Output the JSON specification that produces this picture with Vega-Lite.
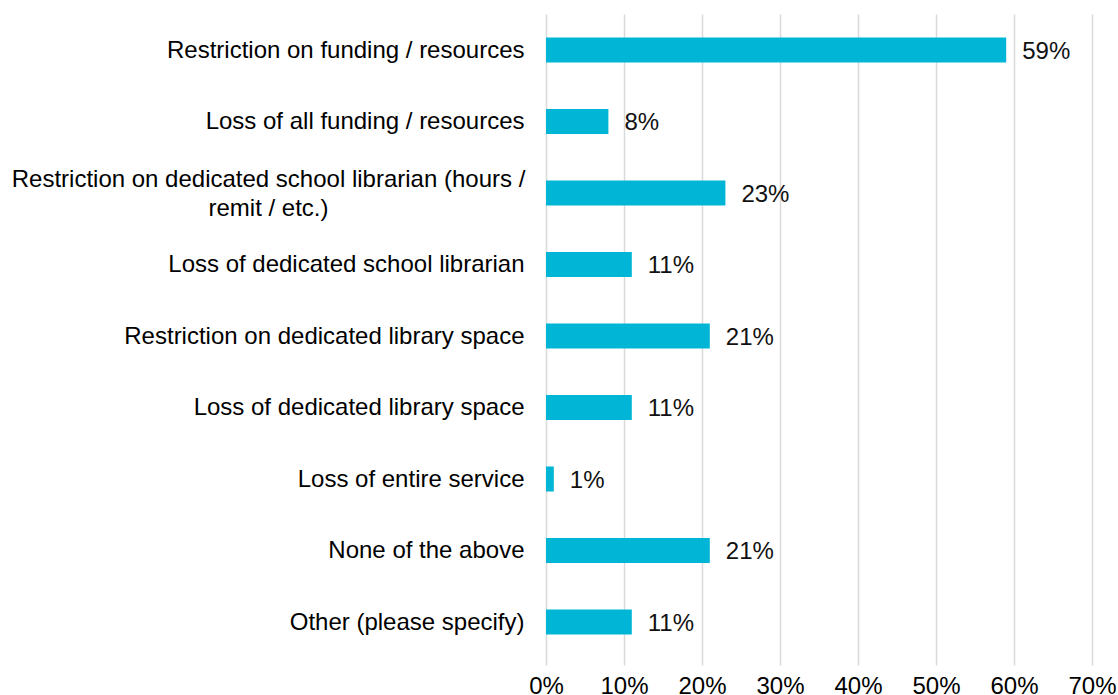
{
  "$schema": "https://vega.github.io/schema/vega-lite/v6.json",
  "width": 546,
  "height": 651,
  "autosize": {"type": "none"},
  "padding": {"left": 546, "top": 14, "right": 26, "bottom": 30},
  "background": "white",
  "config": {
    "view": {"stroke": null},
    "font": "Liberation Sans"
  },
  "data": {
    "values": [
      {"cat": "Restriction on funding / resources", "pct": 0.59},
      {"cat": "Loss of all funding / resources", "pct": 0.08},
      {"cat": "Restriction on dedicated school librarian (hours / remit / etc.)", "pct": 0.23},
      {"cat": "Loss of dedicated school librarian", "pct": 0.11},
      {"cat": "Restriction on dedicated library space", "pct": 0.21},
      {"cat": "Loss of dedicated library space", "pct": 0.11},
      {"cat": "Loss of entire service", "pct": 0.01},
      {"cat": "None of the above", "pct": 0.21},
      {"cat": "Other (please specify)", "pct": 0.11}
    ]
  },
  "encoding": {
    "y": {
      "field": "cat",
      "type": "nominal",
      "sort": null,
      "title": null,
      "scale": {"paddingInner": 0.65, "paddingOuter": 0.3775, "align": 0.435},
      "axis": {
        "domain": false,
        "ticks": false,
        "grid": false,
        "labelFont": "Liberation Sans",
        "labelFontSize": 24,
        "labelColor": "#000000",
        "labelLimit": 0,
        "labelLineHeight": 29,
        "labelExpr": "indexof(datum.value, 'hours') >= 0 ? ['Restriction on dedicated school librarian (hours /', 'remit / etc.)'] : datum.value",
        "labelAlign": {"condition": {"test": "indexof(datum.value, 'hours') >= 0", "value": "center"}, "value": "right"},
        "labelPadding": {"condition": {"test": "indexof(datum.value, 'hours') >= 0", "value": 278}, "value": 22},
        "labelOffset": {"condition": {"test": "indexof(datum.value, 'hours') >= 0", "value": -13}, "value": 1},
        "labelBaseline": "middle"
      }
    },
    "x": {
      "field": "pct",
      "type": "quantitative",
      "title": null,
      "scale": {"domain": [0, 0.7], "nice": false},
      "axis": {
        "values": [0, 0.1, 0.2, 0.3, 0.4, 0.5, 0.6, 0.7],
        "format": ".0%",
        "domain": false,
        "ticks": false,
        "grid": true,
        "gridColor": "#D9D9D9",
        "gridWidth": 1.5,
        "labelFont": "Liberation Sans",
        "labelFontSize": 24,
        "labelColor": "#000000",
        "labelPadding": 9,
        "labelFlush": false,
        "labelOverlap": false
      }
    }
  },
  "layer": [
    {"mark": {"type": "bar", "color": "#00B5D6"}},
    {
      "mark": {"type": "text", "align": "left", "baseline": "middle", "dx": 16, "dy": 2, "font": "Liberation Sans", "fontSize": 24, "color": "#111111"},
      "encoding": {"text": {"field": "pct", "type": "quantitative", "format": ".0%"}}
    }
  ]
}
